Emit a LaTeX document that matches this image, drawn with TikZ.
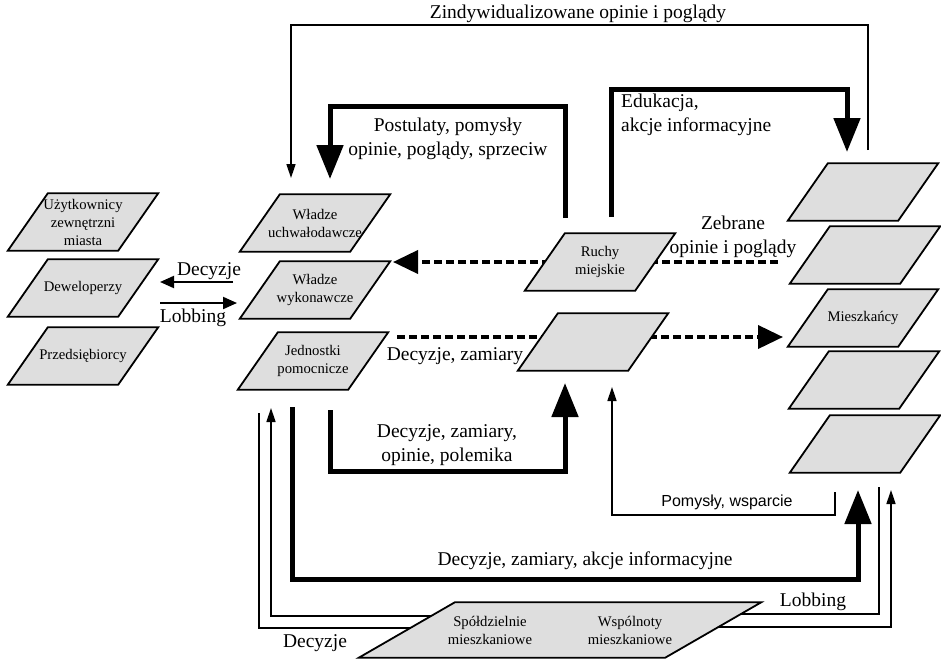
\documentclass[tikz,border=0pt]{standalone}
\usepackage{fontspec}
\setmainfont{Liberation Serif}
\newfontfamily\bezszeryf{Liberation Sans}
\usetikzlibrary{arrows.meta,backgrounds}

% pole w kształcie równoległoboku: nazwa, środek, tekst
\newcommand{\pole}[3]{%
	\node[ramka] (#1) at (#2) {};
	\filldraw[obrys] ([xshift=-20pt]#1.south west) -- ([xshift=-20pt]#1.south east) -- ([xshift=20pt]#1.north east) -- ([xshift=20pt]#1.north west) -- cycle;
	\node[napis] (#1t) at (#1) {#3};
}

\begin{document}
\begin{tikzpicture}[x=1pt,y=-1pt,
		ramka/.style={draw=none, minimum width=110pt, minimum height=57pt, inner sep=0pt},
		obrys/.style={line width=1.8pt, fill=black!13, line join=miter},
		napis/.style={align=center, inner sep=0pt, font=\fontsize{14.7}{18}\selectfont},
		etyk/.style={align=center, inner sep=0pt, font=\fontsize{19.5}{24}\selectfont},
		gruba/.style={line width=5pt, -{Triangle[length=34pt,width=26pt]}},
		cienka/.style={line width=1.6pt, -{Triangle[length=14pt,width=9pt]}},
		linia/.style={line width=1.6pt},
		srednia/.style={line width=2pt, -{Triangle[length=14pt,width=12pt]}},
		kreski/.style={line width=3.8pt, dash pattern=on 8pt off 4pt, -{Triangle[length=25pt,width=23pt]}}]
		\useasboundingbox (0,0) rectangle (941,659);
		% lewa kolumna
		\pole{uzyt}{83,222}{Użytkownicy\\zewnętrzni\\miasta}
		\pole{dewel}{83,288}{Deweloperzy}
		\pole{przed}{83,356}{Przedsiębiorcy}
		% władze
		\pole{uchw}{315,223}{Władze\\uchwałodawcze}
		\pole{wyk}{315,290}{Władze\\wykonawcze}
		\pole{jedn}{313,361}{Jednostki\\pomocnicze}
		% ruchy miejskie
		\pole{ruchy}{600,262}{Ruchy\\miejskie}
		\pole{ruchyB}{593,342}{}
		% mieszkańcy
		\pole{m1}{863,192}{}
		\pole{m2}{865,255}{}
		\pole{miesz}{863,318}{Mieszkańcy}
		\pole{m4}{864,380}{}
		\pole{m5}{865,444}{}
		% spółdzielnie i wspólnoty
		\node[ramka, minimum width=306pt, minimum height=55pt] (spold) at (560,630) {};
		\filldraw[obrys] ([xshift=-48pt]spold.south west) -- ([xshift=-48pt]spold.south east) -- ([xshift=48pt]spold.north east) -- ([xshift=48pt]spold.north west) -- cycle;
		\node[napis] (spoldA) at (490,630) {Spółdzielnie\\mieszkaniowe};
		\node[napis] (wspol) at (630,630) {Wspólnoty\\mieszkaniowe};

		\coordinate (zindA) at (868,150);
		\coordinate (zindB) at (291,178);
		\draw[cienka] (zindA) -- (zindA |- 0,25) -| (zindB);
		\node[etyk] (zind) at (578,14) {Zindywidualizowane opinie i poglądy};

		\coordinate (postA) at (565,218);
		\coordinate (postB) at (330,179);
		\draw[gruba] (postA) -- (postA |- 0,106) -| (postB);
		\node[etyk] (post) at (448,139) {Postulaty, pomysły\\opinie, poglądy, sprzeciw};

		\coordinate (edukA) at (611,217);
		\coordinate (edukB) at (847,152);
		\draw[gruba] (edukA) -- (edukA |- 0,89) -| (edukB);
		\node[etyk, anchor=west, align=left] (eduk) at (621,115) {Edukacja,\\akcje informacyjne};

		\begin{pgfonlayer}{background}
			\coordinate (zebA) at (778,262);
			\coordinate (zebB) at (393,262);
			\draw[kreski] (zebA) -- (zebB);
			\coordinate (decA) at (397,337);
			\coordinate (decB) at (783,337);
			\draw[kreski] (decA) -- (decB);
			% linie od spółdzielni
			\coordinate (sp1) at (500,616);
			\coordinate (sp2) at (500,628);
			\coordinate (sp3) at (700,614);
			\coordinate (sp4) at (700,627);
			\draw[cienka] (sp1) -| (271,408);
			\draw[linia] (sp2) -| (259,413);
			\draw[linia] (sp3) -| (879,487);
			\draw[cienka] (sp4) -| (891,490);
		\end{pgfonlayer}
		\node[etyk] (zeb) at (733,237) {Zebrane\\opinie i poglądy};
		\node[etyk] (dec) at (455,356) {Decyzje, zamiary};

		\coordinate (decL1) at (233,282);
		\coordinate (decL2) at (160,282);
		\draw[srednia] (decL1) -- (decL2);
		\node[etyk] (decL) at (209,271) {Decyzje};
		\coordinate (lobL1) at (160,303);
		\coordinate (lobL2) at (237,303);
		\draw[srednia] (lobL1) -- (lobL2);
		\node[etyk] (lobL) at (193,318) {Lobbing};

		\coordinate (polA) at (330,410);
		\coordinate (polB) at (565,383);
		\draw[gruba] (polA) -- (polA |- 0,471) -| (polB);
		\node[etyk] (pol) at (447,445) {Decyzje, zamiary,\\opinie, polemika};

		\coordinate (akcA) at (292,407);
		\coordinate (akcB) at (858,490);
		\draw[gruba] (akcA) -- (akcA |- 0,579) -| (akcB);
		\node[etyk] (akc) at (585,561) {Decyzje, zamiary, akcje informacyjne};

		\coordinate (pomA) at (835,492);
		\coordinate (pomB) at (612,387);
		\draw[cienka] (pomA) -- (pomA |- 0,515) -| (pomB);
		\node[font=\bezszeryf\fontsize{16}{19}\selectfont, inner sep=0pt] (pom) at (727,502) {Pomysły, wsparcie};

		\node[etyk] (lobR) at (813,602) {Lobbing};
		\node[etyk] (decD) at (315,643) {Decyzje};
	\end{tikzpicture}
\end{document}
